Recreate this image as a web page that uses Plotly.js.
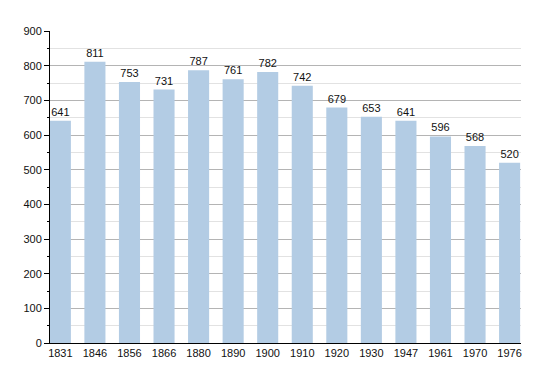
<!DOCTYPE html>
<html>
<head>
<meta charset="utf-8">
<script src="https://cdn.plot.ly/plotly-3.0.1.min.js"></script>
<style>html,body{margin:0;padding:0;background:#fff;}#chart{width:550px;height:373px;}</style>
</head>
<body>
<div id="chart"></div>
<script>
const years = ["1831","1846","1856","1866","1880","1890","1900","1910","1920","1930","1947","1961","1970","1976"];
const population = [641, 811, 753, 731, 787, 761, 782, 742, 679, 653, 641, 596, 568, 520];
const yTicks = [0, 100, 200, 300, 400, 500, 600, 700, 800, 900];

const trace = {
  type: 'bar',
  x: years,
  y: population,
  text: population.map(String),
  textposition: 'outside',
  cliponaxis: false,
  textfont: {family: 'Liberation Sans, Arial, sans-serif', size: 11, color: '#111'},
  marker: {color: '#b3cce4', line: {width: 0}},
  hoverinfo: 'x+y'
};

const layout = {
  width: 550, height: 373,
  margin: {l: 50, r: 29, t: 31, b: 30, pad: 0},
  paper_bgcolor: '#fff', plot_bgcolor: '#fff',
  bargap: 0.39,
  showlegend: false,
  font: {family: 'Liberation Sans, Arial, sans-serif', size: 11, color: '#111'},
  xaxis: {
    type: 'category',
    range: [-0.3, 13.33],
    showgrid: false,
    showline: true, linecolor: '#000', linewidth: 1,
    ticks: '', ticklen: 0,
    tickfont: {size: 11, color: '#111'},
    fixedrange: true
  },
  yaxis: {
    range: [0, 900],
    tickvals: yTicks,
    ticktext: yTicks.map(String),
    showgrid: true, gridcolor: '#b4b4b4', gridwidth: 1,
    zeroline: false,
    showline: true, linecolor: '#000', linewidth: 1,
    ticks: 'outside', ticklen: 5, tickcolor: '#000', tickwidth: 1,
    tickfont: {size: 11, color: '#111'},
    minor: {dtick: 50, showgrid: true, gridcolor: '#e2e2e2', gridwidth: 1, ticks: 'outside', ticklen: 2, tickcolor: '#000'},
    fixedrange: true
  }
};

Plotly.newPlot('chart', [trace], layout, {displayModeBar: false, staticPlot: true});
</script>
</body>
</html>
